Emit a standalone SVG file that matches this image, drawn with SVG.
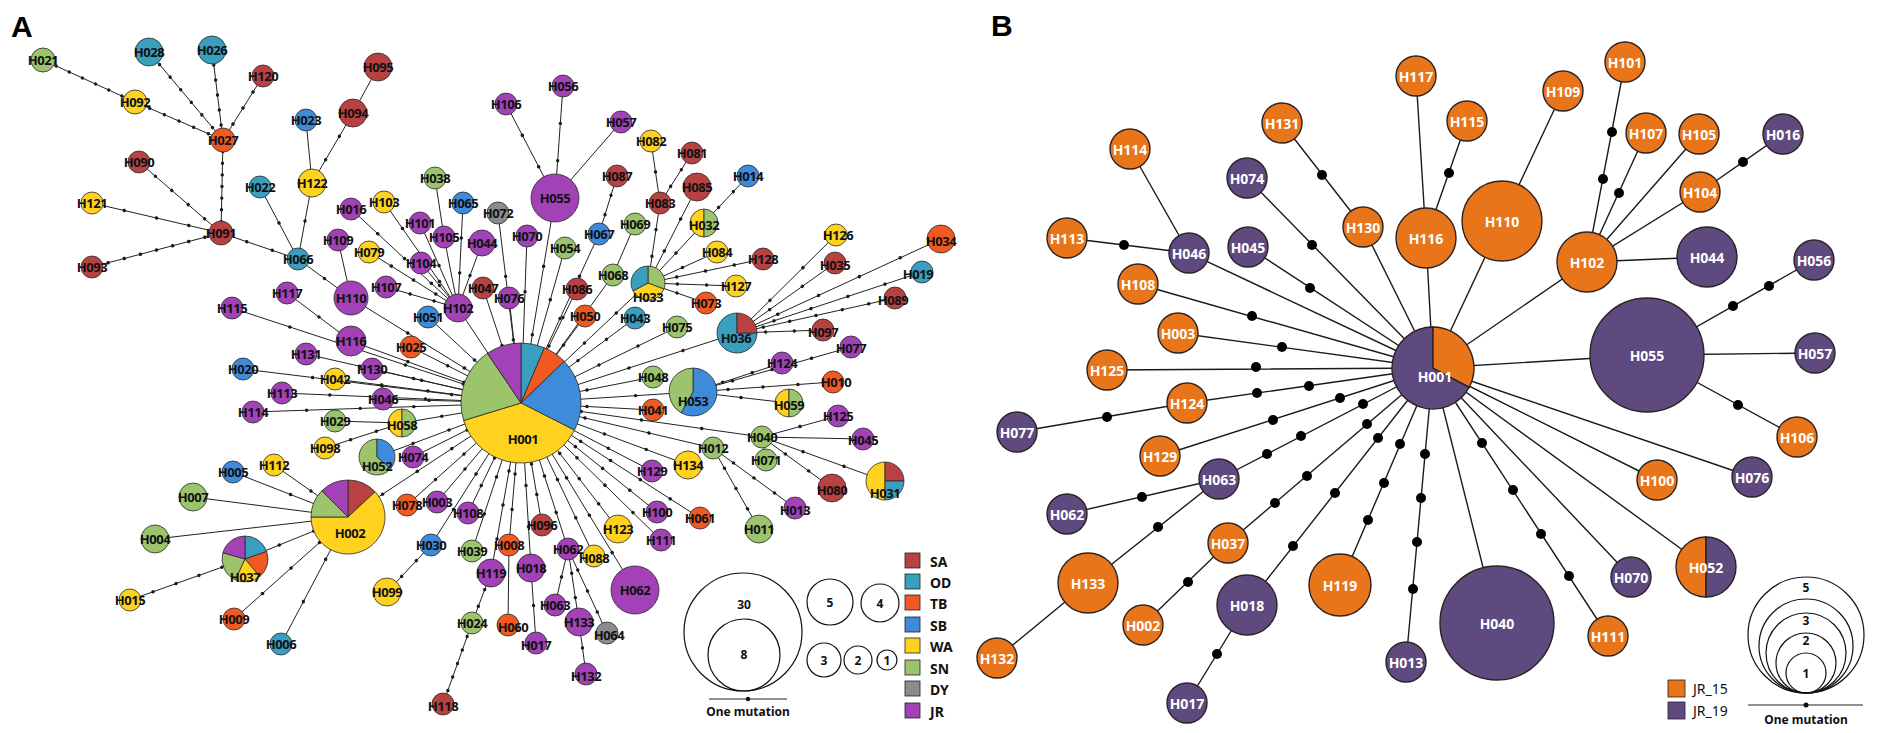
<svg xmlns="http://www.w3.org/2000/svg" width="1904" height="733" viewBox="0 0 1904 733">
<style>
.SA{fill:#B84242}.OD{fill:#3A9EBE}.TB{fill:#F05A22}.SB{fill:#3E8BDA}.WA{fill:#FFD21F}.SN{fill:#9CC46C}.DY{fill:#8C8C8C}.JR{fill:#A242B6}
.J15{fill:#E8751A}.J19{fill:#5F4A80}
.e{stroke:#222;stroke-width:1;fill:none}
.d{stroke:#1a1a1a;stroke-width:3.4;stroke-linecap:round;stroke-dasharray:0.001 0.999;fill:none}
.eb{stroke:#1a1a1a;stroke-width:1.4;fill:none}
.db{fill:#000}
#nodesA circle,#nodesA path{stroke:#2a2a2a;stroke-width:0.8}
#nodesA text{font-family:"Noto Sans",sans-serif;font-weight:700;font-size:13px;fill:#111;text-anchor:middle;dominant-baseline:central;letter-spacing:-0.4px}
#nodesB circle,#nodesB path{stroke:#2b2222;stroke-width:1.4}
#nodesB text{font-family:"Noto Sans",sans-serif;font-weight:700;font-size:14px;fill:#fff;text-anchor:middle;dominant-baseline:central}
.ol{fill:none}
.lg{fill:none;stroke:#111;stroke-width:1.2}
.lt{font-family:"Noto Sans",sans-serif;font-weight:700;font-size:12px;fill:#111;text-anchor:middle;dominant-baseline:central}
.st{font-family:"Noto Sans",sans-serif;font-weight:700;font-size:14px;fill:#111;dominant-baseline:central}
.bt{font-family:"Noto Sans",sans-serif;font-size:14px;fill:#111;dominant-baseline:central}
.sw{stroke:#222;stroke-width:0.8}
.pl{font-family:"Liberation Sans",Arial,sans-serif;font-weight:700;font-size:30px;fill:#000}
</style>
<rect width="1904" height="733" fill="#fff"/>
<text class="pl" x="11" y="37">A</text>
<text class="pl" x="991" y="36">B</text>

<g id="connectorsA">
<path class="e" d="M43 60L135 102"/><path class="d" pathLength="7" d="M43 60L135 102"/>
<path class="e" d="M135 102L223 140"/><path class="d" pathLength="6" d="M135 102L223 140"/>
<path class="e" d="M149 52L223 140"/><path class="d" pathLength="7" d="M149 52L223 140"/>
<path class="e" d="M212 50L223 140"/><path class="d" pathLength="6" d="M212 50L223 140"/>
<path class="e" d="M263 76L223 140"/><path class="d" pathLength="4" d="M263 76L223 140"/>
<path class="e" d="M223 140L221 233"/><path class="d" pathLength="8" d="M223 140L221 233"/>
<path class="e" d="M139 162L221 233"/><path class="d" pathLength="5" d="M139 162L221 233"/>
<path class="e" d="M92 203L221 233"/><path class="d" pathLength="4" d="M92 203L221 233"/>
<path class="e" d="M92 267L221 233"/><path class="d" pathLength="8" d="M92 267L221 233"/>
<path class="e" d="M221 233L298 259"/><path class="d" pathLength="3" d="M221 233L298 259"/>
<path class="e" d="M260 187L298 259"/><path class="d" pathLength="2" d="M260 187L298 259"/>
<path class="e" d="M312 183L298 259"/><path class="d" pathLength="2" d="M312 183L298 259"/>
<path class="e" d="M306 120L312 183"/>
<path class="e" d="M353 113L312 183"/><path class="d" pathLength="3" d="M353 113L312 183"/>
<path class="e" d="M378 67L353 113"/>
<path class="e" d="M298 259L351 298"/><path class="d" pathLength="2" d="M298 259L351 298"/>
<path class="e" d="M338 240L351 298"/>
<path class="e" d="M351 298L521 403"/><path class="d" pathLength="3" d="M351 298L521 403"/>
<path class="e" d="M287 293L351 341"/><path class="d" pathLength="2" d="M287 293L351 341"/>
<path class="e" d="M351 341L521 403"/><path class="d" pathLength="3" d="M351 341L521 403"/>
<path class="e" d="M232 308L521 403"/><path class="d" pathLength="5" d="M232 308L521 403"/>
<path class="e" d="M306 354L521 403"/><path class="d" pathLength="4" d="M306 354L521 403"/>
<path class="e" d="M243 369L521 403"/><path class="d" pathLength="4" d="M243 369L521 403"/>
<path class="e" d="M372 369L521 403"/><path class="d" pathLength="3" d="M372 369L521 403"/>
<path class="e" d="M335 379L521 403"/><path class="d" pathLength="4" d="M335 379L521 403"/>
<path class="e" d="M282 393L521 403"/><path class="d" pathLength="5" d="M282 393L521 403"/>
<path class="e" d="M253 412L521 403"/><path class="d" pathLength="5" d="M253 412L521 403"/>
<path class="e" d="M383 399L521 403"/><path class="d" pathLength="3" d="M383 399L521 403"/>
<path class="e" d="M335 421L402 423"/>
<path class="e" d="M402 423L521 403"/><path class="d" pathLength="3" d="M402 423L521 403"/>
<path class="e" d="M325 448L402 423"/><path class="d" pathLength="3" d="M325 448L402 423"/>
<path class="e" d="M377 457L521 403"/><path class="d" pathLength="4" d="M377 457L521 403"/>
<path class="e" d="M413 457L521 403"/><path class="d" pathLength="2" d="M413 457L521 403"/>
<path class="e" d="M274 465L348 517"/><path class="d" pathLength="2" d="M274 465L348 517"/>
<path class="e" d="M233 472L348 517"/><path class="d" pathLength="2" d="M233 472L348 517"/>
<path class="e" d="M193 497L348 517"/>
<path class="e" d="M155 539L348 517"/>
<path class="e" d="M245 559L348 517"/><path class="d" pathLength="3" d="M245 559L348 517"/>
<path class="e" d="M130 600L245 559"/><path class="d" pathLength="5" d="M130 600L245 559"/>
<path class="e" d="M234 619L348 517"/><path class="d" pathLength="4" d="M234 619L348 517"/>
<path class="e" d="M281 644L348 517"/><path class="d" pathLength="3" d="M281 644L348 517"/>
<path class="e" d="M348 517L521 403"/><path class="d" pathLength="5" d="M348 517L521 403"/>
<path class="e" d="M351 209L458 308"/><path class="d" pathLength="4" d="M351 209L458 308"/>
<path class="e" d="M384 202L458 308"/><path class="d" pathLength="4" d="M384 202L458 308"/>
<path class="e" d="M420 223L458 308"/><path class="d" pathLength="2" d="M420 223L458 308"/>
<path class="e" d="M435 178L444 237"/>
<path class="e" d="M444 237L458 308"/>
<path class="e" d="M421 263L458 308"/><path class="d" pathLength="2" d="M421 263L458 308"/>
<path class="e" d="M386 287L458 308"/><path class="d" pathLength="3" d="M386 287L458 308"/>
<path class="e" d="M369 252L458 308"/><path class="d" pathLength="4" d="M369 252L458 308"/>
<path class="e" d="M463 203L458 308"/><path class="d" pathLength="3" d="M463 203L458 308"/>
<path class="e" d="M482 243L458 308"/><path class="d" pathLength="2" d="M482 243L458 308"/>
<path class="e" d="M458 308L521 403"/><path class="d" pathLength="2" d="M458 308L521 403"/>
<path class="e" d="M428 317L521 403"/><path class="d" pathLength="2" d="M428 317L521 403"/>
<path class="e" d="M411 347L521 403"/><path class="d" pathLength="3" d="M411 347L521 403"/>
<path class="e" d="M498 213L521 403"/><path class="d" pathLength="3" d="M498 213L521 403"/>
<path class="e" d="M527 236L521 403"/><path class="d" pathLength="3" d="M527 236L521 403"/>
<path class="e" d="M483 288L521 403"/><path class="d" pathLength="2" d="M483 288L521 403"/>
<path class="e" d="M509 298L521 403"/><path class="d" pathLength="2" d="M509 298L521 403"/>
<path class="e" d="M506 104L555 198"/><path class="d" pathLength="3" d="M506 104L555 198"/>
<path class="e" d="M563 86L555 198"/><path class="d" pathLength="3" d="M563 86L555 198"/>
<path class="e" d="M621 122L555 198"/>
<path class="e" d="M555 198L521 403"/><path class="d" pathLength="3" d="M555 198L521 403"/>
<path class="e" d="M617 176L599 234"/><path class="d" pathLength="3" d="M617 176L599 234"/>
<path class="e" d="M599 234L521 403"/><path class="d" pathLength="4" d="M599 234L521 403"/>
<path class="e" d="M565 248L521 403"/><path class="d" pathLength="3" d="M565 248L521 403"/>
<path class="e" d="M635 224L613 275"/>
<path class="e" d="M613 275L521 403"/><path class="d" pathLength="3" d="M613 275L521 403"/>
<path class="e" d="M651 141L660 203"/><path class="d" pathLength="2" d="M651 141L660 203"/>
<path class="e" d="M692 153L660 203"/><path class="d" pathLength="3" d="M692 153L660 203"/>
<path class="e" d="M660 203L648 283"/><path class="d" pathLength="3" d="M660 203L648 283"/>
<path class="e" d="M697 187L648 283"/><path class="d" pathLength="3" d="M697 187L648 283"/>
<path class="e" d="M748 176L704 223"/><path class="d" pathLength="3" d="M748 176L704 223"/>
<path class="e" d="M704 223L648 283"/><path class="d" pathLength="2" d="M704 223L648 283"/>
<path class="e" d="M717 252L648 283"/><path class="d" pathLength="2" d="M717 252L648 283"/>
<path class="e" d="M763 259L648 283"/><path class="d" pathLength="4" d="M763 259L648 283"/>
<path class="e" d="M736 286L648 283"/><path class="d" pathLength="3" d="M736 286L648 283"/>
<path class="e" d="M706 303L648 283"/><path class="d" pathLength="2" d="M706 303L648 283"/>
<path class="e" d="M648 283L521 403"/><path class="d" pathLength="4" d="M648 283L521 403"/>
<path class="e" d="M577 289L521 403"/><path class="d" pathLength="4" d="M577 289L521 403"/>
<path class="e" d="M585 316L521 403"/><path class="d" pathLength="3" d="M585 316L521 403"/>
<path class="e" d="M635 318L521 403"/><path class="d" pathLength="4" d="M635 318L521 403"/>
<path class="e" d="M677 327L521 403"/><path class="d" pathLength="4" d="M677 327L521 403"/>
<path class="e" d="M737 333L521 403"/><path class="d" pathLength="4" d="M737 333L521 403"/>
<path class="e" d="M836 235L737 333"/><path class="d" pathLength="3" d="M836 235L737 333"/>
<path class="e" d="M835 263L737 333"/><path class="d" pathLength="3" d="M835 263L737 333"/>
<path class="e" d="M941 239L737 333"/><path class="d" pathLength="5" d="M941 239L737 333"/>
<path class="e" d="M922 272L737 333"/><path class="d" pathLength="5" d="M922 272L737 333"/>
<path class="e" d="M895 298L737 333"/><path class="d" pathLength="6" d="M895 298L737 333"/>
<path class="e" d="M823 330L737 333"/><path class="d" pathLength="3" d="M823 330L737 333"/>
<path class="e" d="M653 377L521 403"/><path class="d" pathLength="2" d="M653 377L521 403"/>
<path class="e" d="M693 392L521 403"/><path class="d" pathLength="3" d="M693 392L521 403"/>
<path class="e" d="M782 363L693 392"/><path class="d" pathLength="3" d="M782 363L693 392"/>
<path class="e" d="M833 382L693 392"/><path class="d" pathLength="4" d="M833 382L693 392"/>
<path class="e" d="M851 347L693 392"/><path class="d" pathLength="4" d="M851 347L693 392"/>
<path class="e" d="M789 403L693 392"/><path class="d" pathLength="2" d="M789 403L693 392"/>
<path class="e" d="M653 410L521 403"/><path class="d" pathLength="2" d="M653 410L521 403"/>
<path class="e" d="M762 437L521 403"/><path class="d" pathLength="4" d="M762 437L521 403"/>
<path class="e" d="M838 416L762 437"/><path class="d" pathLength="2" d="M838 416L762 437"/>
<path class="e" d="M863 439L762 437"/>
<path class="e" d="M885 481L762 437"/><path class="d" pathLength="3" d="M885 481L762 437"/>
<path class="e" d="M832 488L762 437"/><path class="d" pathLength="3" d="M832 488L762 437"/>
<path class="e" d="M766 460L762 437"/>
<path class="e" d="M713 448L521 403"/><path class="d" pathLength="3" d="M713 448L521 403"/>
<path class="e" d="M795 508L713 448"/><path class="d" pathLength="4" d="M795 508L713 448"/>
<path class="e" d="M759 529L713 448"/><path class="d" pathLength="4" d="M759 529L713 448"/>
<path class="e" d="M688 465L521 403"/><path class="d" pathLength="4" d="M688 465L521 403"/>
<path class="e" d="M652 471L521 403"/><path class="d" pathLength="3" d="M652 471L521 403"/>
<path class="e" d="M661 540L521 403"/><path class="d" pathLength="5" d="M661 540L521 403"/>
<path class="e" d="M657 512L521 403"/><path class="d" pathLength="5" d="M657 512L521 403"/>
<path class="e" d="M700 518L521 403"/><path class="d" pathLength="6" d="M700 518L521 403"/>
<path class="e" d="M618 529L521 403"/><path class="d" pathLength="5" d="M618 529L521 403"/>
<path class="e" d="M635 590L521 403"/><path class="d" pathLength="5" d="M635 590L521 403"/>
<path class="e" d="M594 556L521 403"/><path class="d" pathLength="4" d="M594 556L521 403"/>
<path class="e" d="M568 549L521 403"/><path class="d" pathLength="4" d="M568 549L521 403"/>
<path class="e" d="M555 605L568 549"/><path class="d" pathLength="2" d="M555 605L568 549"/>
<path class="e" d="M579 622L568 549"/><path class="d" pathLength="3" d="M579 622L568 549"/>
<path class="e" d="M607 633L568 549"/><path class="d" pathLength="4" d="M607 633L568 549"/>
<path class="e" d="M586 674L579 622"/><path class="d" pathLength="2" d="M586 674L579 622"/>
<path class="e" d="M542 525L521 403"/><path class="d" pathLength="4" d="M542 525L521 403"/>
<path class="e" d="M531 568L521 403"/><path class="d" pathLength="4" d="M531 568L521 403"/>
<path class="e" d="M536 643L531 568"/><path class="d" pathLength="2" d="M536 643L531 568"/>
<path class="e" d="M509 545L521 403"/><path class="d" pathLength="4" d="M509 545L521 403"/>
<path class="e" d="M508 625L509 545"/>
<path class="e" d="M491 573L521 403"/><path class="d" pathLength="5" d="M491 573L521 403"/>
<path class="e" d="M472 623L491 573"/><path class="d" pathLength="3" d="M472 623L491 573"/>
<path class="e" d="M443 704L472 623"/><path class="d" pathLength="6" d="M443 704L472 623"/>
<path class="e" d="M472 551L521 403"/><path class="d" pathLength="4" d="M472 551L521 403"/>
<path class="e" d="M468 513L521 403"/><path class="d" pathLength="4" d="M468 513L521 403"/>
<path class="e" d="M437 502L521 403"/><path class="d" pathLength="3" d="M437 502L521 403"/>
<path class="e" d="M407 505L521 403"/><path class="d" pathLength="4" d="M407 505L521 403"/>
<path class="e" d="M431 545L521 403"/><path class="d" pathLength="4" d="M431 545L521 403"/>
<path class="e" d="M387 592L431 545"/><path class="d" pathLength="3" d="M387 592L431 545"/>
</g>

<g id="nodesA">
<g id="a-H021"><circle class="SN" cx="43" cy="60" r="12"/><text x="43" y="60">H021</text></g>
<g id="a-H028"><circle class="OD" cx="149" cy="52" r="14"/><text x="149" y="52">H028</text></g>
<g id="a-H026"><circle class="OD" cx="212" cy="50" r="14"/><text x="212" y="50">H026</text></g>
<g id="a-H120"><circle class="SA" cx="263" cy="76" r="11"/><text x="263" y="76">H120</text></g>
<g id="a-H092"><circle class="WA" cx="135" cy="102" r="12"/><text x="135" y="102">H092</text></g>
<g id="a-H027"><circle class="TB" cx="223" cy="140" r="12"/><text x="223" y="140">H027</text></g>
<g id="a-H090"><circle class="SA" cx="139" cy="162" r="11"/><text x="139" y="162">H090</text></g>
<g id="a-H022"><circle class="OD" cx="260" cy="187" r="11"/><text x="260" y="187">H022</text></g>
<g id="a-H121"><circle class="WA" cx="92" cy="203" r="11"/><text x="92" y="203">H121</text></g>
<g id="a-H091"><circle class="SA" cx="221" cy="233" r="12"/><text x="221" y="233">H091</text></g>
<g id="a-H093"><circle class="SA" cx="92" cy="267" r="11"/><text x="92" y="267">H093</text></g>
<g id="a-H066"><circle class="OD" cx="298" cy="259" r="11"/><text x="298" y="259">H066</text></g>
<g id="a-H095"><circle class="SA" cx="378" cy="67" r="14"/><text x="378" y="67">H095</text></g>
<g id="a-H094"><circle class="SA" cx="353" cy="113" r="14"/><text x="353" y="113">H094</text></g>
<g id="a-H023"><circle class="SB" cx="306" cy="120" r="11"/><text x="306" y="120">H023</text></g>
<g id="a-H122"><circle class="WA" cx="312" cy="183" r="14"/><text x="312" y="183">H122</text></g>
<g id="a-H106"><circle class="JR" cx="506" cy="104" r="11"/><text x="506" y="104">H106</text></g>
<g id="a-H038"><circle class="SN" cx="435" cy="178" r="11"/><text x="435" y="178">H038</text></g>
<g id="a-H103"><circle class="WA" cx="384" cy="202" r="11"/><text x="384" y="202">H103</text></g>
<g id="a-H016"><circle class="JR" cx="351" cy="209" r="11"/><text x="351" y="209">H016</text></g>
<g id="a-H065"><circle class="SB" cx="463" cy="203" r="11"/><text x="463" y="203">H065</text></g>
<g id="a-H072"><circle class="DY" cx="498" cy="213" r="11"/><text x="498" y="213">H072</text></g>
<g id="a-H101"><circle class="JR" cx="420" cy="223" r="11"/><text x="420" y="223">H101</text></g>
<g id="a-H105"><circle class="JR" cx="444" cy="237" r="11"/><text x="444" y="237">H105</text></g>
<g id="a-H044"><circle class="JR" cx="482" cy="243" r="13"/><text x="482" y="243">H044</text></g>
<g id="a-H070"><circle class="JR" cx="527" cy="236" r="11"/><text x="527" y="236">H070</text></g>
<g id="a-H109"><circle class="JR" cx="338" cy="240" r="11"/><text x="338" y="240">H109</text></g>
<g id="a-H056"><circle class="JR" cx="563" cy="86" r="11"/><text x="563" y="86">H056</text></g>
<g id="a-H057"><circle class="JR" cx="621" cy="122" r="11"/><text x="621" y="122">H057</text></g>
<g id="a-H055"><circle class="JR" cx="555" cy="198" r="24"/><text x="555" y="198">H055</text></g>
<g id="a-H082"><circle class="WA" cx="651" cy="141" r="11"/><text x="651" y="141">H082</text></g>
<g id="a-H081"><circle class="SA" cx="692" cy="153" r="11"/><text x="692" y="153">H081</text></g>
<g id="a-H087"><circle class="SA" cx="617" cy="176" r="11"/><text x="617" y="176">H087</text></g>
<g id="a-H085"><circle class="SA" cx="697" cy="187" r="14"/><text x="697" y="187">H085</text></g>
<g id="a-H014"><circle class="SB" cx="748" cy="176" r="11"/><text x="748" y="176">H014</text></g>
<g id="a-H083"><circle class="SA" cx="660" cy="203" r="11"/><text x="660" y="203">H083</text></g>
<g id="a-H032"><path class="WA" d="M704 209A14 14 0 0 0 704 237Z"/><path class="SN" d="M704 209A14 14 0 0 1 704 237Z"/><text x="704" y="225">H032</text></g>
<g id="a-H069"><circle class="SN" cx="635" cy="224" r="11"/><text x="635" y="224">H069</text></g>
<g id="a-H067"><circle class="SB" cx="599" cy="234" r="11"/><text x="599" y="234">H067</text></g>
<g id="a-H054"><circle class="SN" cx="565" cy="248" r="11"/><text x="565" y="248">H054</text></g>
<g id="a-H084"><circle class="WA" cx="717" cy="252" r="11"/><text x="717" y="252">H084</text></g>
<g id="a-H128"><circle class="SA" cx="763" cy="259" r="11"/><text x="763" y="259">H128</text></g>
<g id="a-H068"><circle class="SN" cx="613" cy="275" r="11"/><text x="613" y="275">H068</text></g>
<g id="a-H033"><path class="SN" d="M648 283L648 266A17 17 0 0 1 663.9 289.1Z"/><path class="WA" d="M648 283L663.9 289.1A17 17 0 0 1 633 291Z"/><path class="OD" d="M648 283L633 291A17 17 0 0 1 648 266Z"/><text x="648" y="297">H033</text></g>
<g id="a-H127"><circle class="WA" cx="736" cy="286" r="11"/><text x="736" y="286">H127</text></g>
<g id="a-H086"><circle class="SA" cx="577" cy="289" r="11"/><text x="577" y="289">H086</text></g>
<g id="a-H073"><circle class="TB" cx="706" cy="303" r="11"/><text x="706" y="303">H073</text></g>
<g id="a-H050"><circle class="TB" cx="585" cy="316" r="11"/><text x="585" y="316">H050</text></g>
<g id="a-H043"><circle class="OD" cx="635" cy="318" r="11"/><text x="635" y="318">H043</text></g>
<g id="a-H075"><circle class="SN" cx="677" cy="327" r="11"/><text x="677" y="327">H075</text></g>
<g id="a-H036"><path class="OD" d="M737 333L757 333A20 20 0 1 1 737 313Z"/><path class="SA" d="M737 333L737 313A20 20 0 0 1 757 333Z"/><text x="736" y="338">H036</text></g>
<g id="a-H124"><circle class="JR" cx="782" cy="363" r="11"/><text x="782" y="363">H124</text></g>
<g id="a-H048"><circle class="SN" cx="653" cy="377" r="11"/><text x="653" y="377">H048</text></g>
<g id="a-H053"><path class="SB" d="M693 392L693 368A24 24 0 1 1 681 412.8Z"/><path class="SN" d="M693 392L681 412.8A24 24 0 0 1 693 368Z"/><text x="693" y="401">H053</text></g>
<g id="a-H059"><path class="WA" d="M789 389A14 14 0 0 0 789 417Z"/><path class="SN" d="M789 389A14 14 0 0 1 789 417Z"/><text x="789" y="405">H059</text></g>
<g id="a-H041"><circle class="TB" cx="653" cy="410" r="11"/><text x="653" y="410">H041</text></g>
<g id="a-H040"><circle class="SN" cx="762" cy="437" r="11"/><text x="762" y="437">H040</text></g>
<g id="a-H012"><circle class="SN" cx="713" cy="448" r="11"/><text x="713" y="448">H012</text></g>
<g id="a-H071"><circle class="SN" cx="766" cy="460" r="11"/><text x="766" y="460">H071</text></g>
<g id="a-H134"><circle class="WA" cx="688" cy="465" r="14"/><text x="688" y="465">H134</text></g>
<g id="a-H129"><circle class="JR" cx="652" cy="471" r="11"/><text x="652" y="471">H129</text></g>
<g id="a-H079"><circle class="WA" cx="369" cy="252" r="11"/><text x="369" y="252">H079</text></g>
<g id="a-H104"><circle class="JR" cx="421" cy="263" r="11"/><text x="421" y="263">H104</text></g>
<g id="a-H117"><circle class="JR" cx="287" cy="293" r="11"/><text x="287" y="293">H117</text></g>
<g id="a-H110"><circle class="JR" cx="351" cy="298" r="17"/><text x="351" y="298">H110</text></g>
<g id="a-H107"><circle class="JR" cx="386" cy="287" r="11"/><text x="386" y="287">H107</text></g>
<g id="a-H047"><circle class="SA" cx="483" cy="288" r="11"/><text x="483" y="288">H047</text></g>
<g id="a-H076"><circle class="JR" cx="509" cy="298" r="11"/><text x="509" y="298">H076</text></g>
<g id="a-H102"><circle class="JR" cx="458" cy="308" r="14"/><text x="458" y="308">H102</text></g>
<g id="a-H051"><circle class="SB" cx="428" cy="317" r="11"/><text x="428" y="317">H051</text></g>
<g id="a-H116"><circle class="JR" cx="351" cy="341" r="15"/><text x="351" y="341">H116</text></g>
<g id="a-H025"><circle class="TB" cx="411" cy="347" r="11"/><text x="411" y="347">H025</text></g>
<g id="a-H131"><circle class="JR" cx="306" cy="354" r="11"/><text x="306" y="354">H131</text></g>
<g id="a-H130"><circle class="JR" cx="372" cy="369" r="11"/><text x="372" y="369">H130</text></g>
<g id="a-H042"><circle class="WA" cx="335" cy="379" r="11"/><text x="335" y="379">H042</text></g>
<g id="a-H113"><circle class="JR" cx="282" cy="393" r="11"/><text x="282" y="393">H113</text></g>
<g id="a-H046"><circle class="JR" cx="383" cy="399" r="11"/><text x="383" y="399">H046</text></g>
<g id="a-H058"><path class="WA" d="M402 409A14 14 0 0 0 402 437Z"/><path class="SN" d="M402 409A14 14 0 0 1 402 437Z"/><text x="402" y="425">H058</text></g>
<g id="a-H029"><circle class="SN" cx="335" cy="421" r="11"/><text x="335" y="421">H029</text></g>
<g id="a-H098"><circle class="WA" cx="325" cy="448" r="11"/><text x="325" y="448">H098</text></g>
<g id="a-H052"><path class="SN" d="M377 457L390.8 468.6A18 18 0 1 1 377 439Z"/><path class="SB" d="M377 457L377 439A18 18 0 0 1 390.8 468.6Z"/><text x="377" y="466">H052</text></g>
<g id="a-H074"><circle class="JR" cx="413" cy="457" r="11"/><text x="413" y="457">H074</text></g>
<g id="a-H115"><circle class="JR" cx="232" cy="308" r="11"/><text x="232" y="308">H115</text></g>
<g id="a-H020"><circle class="SB" cx="243" cy="369" r="11"/><text x="243" y="369">H020</text></g>
<g id="a-H114"><circle class="JR" cx="253" cy="412" r="11"/><text x="253" y="412">H114</text></g>
<g id="a-H112"><circle class="WA" cx="274" cy="465" r="11"/><text x="274" y="465">H112</text></g>
<g id="a-H005"><circle class="SB" cx="233" cy="472" r="11"/><text x="233" y="472">H005</text></g>
<g id="a-H007"><circle class="SN" cx="193" cy="497" r="14"/><text x="193" y="497">H007</text></g>
<g id="a-H002"><path class="SA" d="M348 517L348 480A37 37 0 0 1 375.1 491.8Z"/><path class="WA" d="M348 517L375.1 491.8A37 37 0 1 1 311 517Z"/><path class="SN" d="M348 517L311 517A37 37 0 0 1 321.8 490.8Z"/><path class="JR" d="M348 517L321.8 490.8A37 37 0 0 1 348 480Z"/><text x="350" y="533">H002</text></g>
<g id="a-H004"><circle class="SN" cx="155" cy="539" r="14"/><text x="155" y="539">H004</text></g>
<g id="a-H037"><path class="OD" d="M245 559L245 536A23 23 0 0 1 266.7 551.5Z"/><path class="TB" d="M245 559L266.7 551.5A23 23 0 0 1 259.8 576.6Z"/><path class="WA" d="M245 559L259.8 576.6A23 23 0 0 1 235.3 579.8Z"/><path class="SN" d="M245 559L235.3 579.8A23 23 0 0 1 222.9 552.7Z"/><path class="JR" d="M245 559L222.9 552.7A23 23 0 0 1 245 536Z"/><text x="245" y="577">H037</text></g>
<g id="a-H015"><circle class="WA" cx="130" cy="600" r="11"/><text x="130" y="600">H015</text></g>
<g id="a-H009"><circle class="TB" cx="234" cy="619" r="11"/><text x="234" y="619">H009</text></g>
<g id="a-H006"><circle class="OD" cx="281" cy="644" r="11"/><text x="281" y="644">H006</text></g>
<g id="a-H099"><circle class="WA" cx="387" cy="592" r="14"/><text x="387" y="592">H099</text></g>
<g id="a-H078"><circle class="TB" cx="407" cy="505" r="11"/><text x="407" y="505">H078</text></g>
<g id="a-H003"><circle class="JR" cx="437" cy="502" r="11"/><text x="437" y="502">H003</text></g>
<g id="a-H108"><circle class="JR" cx="468" cy="513" r="11"/><text x="468" y="513">H108</text></g>
<g id="a-H096"><circle class="SA" cx="542" cy="525" r="11"/><text x="542" y="525">H096</text></g>
<g id="a-H100"><circle class="JR" cx="657" cy="512" r="11"/><text x="657" y="512">H100</text></g>
<g id="a-H061"><circle class="TB" cx="700" cy="518" r="11"/><text x="700" y="518">H061</text></g>
<g id="a-H011"><circle class="SN" cx="759" cy="529" r="14"/><text x="759" y="529">H011</text></g>
<g id="a-H123"><circle class="WA" cx="618" cy="529" r="14"/><text x="618" y="529">H123</text></g>
<g id="a-H111"><circle class="JR" cx="661" cy="540" r="11"/><text x="661" y="540">H111</text></g>
<g id="a-H030"><circle class="SB" cx="431" cy="545" r="11"/><text x="431" y="545">H030</text></g>
<g id="a-H039"><circle class="SN" cx="472" cy="551" r="11"/><text x="472" y="551">H039</text></g>
<g id="a-H008"><circle class="TB" cx="509" cy="545" r="11"/><text x="509" y="545">H008</text></g>
<g id="a-H062a"><circle class="JR" cx="568" cy="549" r="11"/><text x="568" y="549">H062</text></g>
<g id="a-H088"><circle class="WA" cx="594" cy="556" r="11"/><text x="594" y="558">H088</text></g>
<g id="a-H119"><circle class="JR" cx="491" cy="573" r="14"/><text x="491" y="573">H119</text></g>
<g id="a-H018"><circle class="JR" cx="531" cy="568" r="14"/><text x="531" y="568">H018</text></g>
<g id="a-H062b"><circle class="JR" cx="635" cy="590" r="24"/><text x="635" y="590">H062</text></g>
<g id="a-H063"><circle class="JR" cx="555" cy="605" r="11"/><text x="555" y="605">H063</text></g>
<g id="a-H024"><circle class="SN" cx="472" cy="623" r="11"/><text x="472" y="623">H024</text></g>
<g id="a-H060"><circle class="TB" cx="508" cy="625" r="11"/><text x="513" y="627">H060</text></g>
<g id="a-H133"><circle class="JR" cx="579" cy="622" r="14"/><text x="579" y="622">H133</text></g>
<g id="a-H064"><circle class="DY" cx="607" cy="633" r="11"/><text x="609" y="635">H064</text></g>
<g id="a-H017"><circle class="JR" cx="536" cy="643" r="11"/><text x="536" y="645">H017</text></g>
<g id="a-H132"><circle class="JR" cx="586" cy="674" r="11"/><text x="586" y="676">H132</text></g>
<g id="a-H118"><circle class="SA" cx="443" cy="704" r="11"/><text x="443" y="706">H118</text></g>
<g id="a-H010"><circle class="TB" cx="833" cy="382" r="11"/><text x="836" y="382">H010</text></g>
<g id="a-H125"><circle class="JR" cx="838" cy="416" r="11"/><text x="838" y="416">H125</text></g>
<g id="a-H045"><circle class="JR" cx="863" cy="439" r="11"/><text x="863" y="440">H045</text></g>
<g id="a-H031"><path class="WA" d="M885 462A19 19 0 0 0 885 500Z"/><path class="SA" d="M885 481L885 462A19 19 0 0 1 904 481Z"/><path class="OD" d="M885 481L904 481A19 19 0 0 1 885 500Z"/><text x="885" y="493">H031</text></g>
<g id="a-H080"><circle class="SA" cx="832" cy="488" r="14"/><text x="832" y="490">H080</text></g>
<g id="a-H013"><circle class="JR" cx="795" cy="508" r="11"/><text x="795" y="510">H013</text></g>
<g id="a-H126"><circle class="WA" cx="836" cy="235" r="11"/><text x="838" y="235">H126</text></g>
<g id="a-H035"><circle class="SA" cx="835" cy="263" r="11"/><text x="835" y="265">H035</text></g>
<g id="a-H034"><circle class="TB" cx="941" cy="239" r="14"/><text x="941" y="241">H034</text></g>
<g id="a-H019"><circle class="OD" cx="922" cy="272" r="11"/><text x="918" y="274">H019</text></g>
<g id="a-H089"><circle class="SA" cx="895" cy="298" r="11"/><text x="893" y="300">H089</text></g>
<g id="a-H097"><circle class="SA" cx="823" cy="330" r="11"/><text x="823" y="332">H097</text></g>
<g id="a-H077"><circle class="JR" cx="851" cy="347" r="11"/><text x="851" y="348">H077</text></g>
<g id="a-H001"><path class="OD" d="M521 403L521 343A60 60 0 0 1 544.4 347.8Z"/><path class="TB" d="M521 403L544.4 347.8A60 60 0 0 1 564.2 361.3Z"/><path class="SB" d="M521 403L564.2 361.3A60 60 0 0 1 574.5 430.2Z"/><path class="WA" d="M521 403L574.5 430.2A60 60 0 0 1 463.6 420.5Z"/><path class="SN" d="M521 403L463.6 420.5A60 60 0 0 1 487.4 353.3Z"/><path class="JR" d="M521 403L487.4 353.3A60 60 0 0 1 521 343Z"/><text x="523" y="439">H001</text></g>
</g>

<g id="legendA">
<circle class="lg" cx="743" cy="632" r="59"/>
<circle class="lg" cx="744" cy="655" r="36"/>
<text class="lt" x="744" y="604">30</text>
<text class="lt" x="744" y="654">8</text>
<circle class="lg" cx="830" cy="602" r="23"/><text class="lt" x="830" y="602">5</text>
<circle class="lg" cx="880" cy="603" r="19"/><text class="lt" x="880" y="603">4</text>
<circle class="lg" cx="824" cy="660" r="17"/><text class="lt" x="824" y="660">3</text>
<circle class="lg" cx="858" cy="660" r="14"/><text class="lt" x="858" y="660">2</text>
<circle class="lg" cx="887" cy="660" r="10"/><text class="lt" x="887" y="660">1</text>
<path class="e" d="M709 699L787 699"/><circle cx="748" cy="699" r="2.2" fill="#111"/>
<text class="lt" x="748" y="711">One mutation</text>
<rect class="SA sw" x="905" y="553" width="15" height="15"/><text class="st" x="930" y="561">SA</text>
<rect class="OD sw" x="905" y="574" width="15" height="15"/><text class="st" x="930" y="582">OD</text>
<rect class="TB sw" x="905" y="595" width="15" height="15"/><text class="st" x="930" y="603">TB</text>
<rect class="SB sw" x="905" y="617" width="15" height="15"/><text class="st" x="930" y="625">SB</text>
<rect class="WA sw" x="905" y="638" width="15" height="15"/><text class="st" x="930" y="646">WA</text>
<rect class="SN sw" x="905" y="660" width="15" height="15"/><text class="st" x="930" y="668">SN</text>
<rect class="DY sw" x="905" y="681" width="15" height="15"/><text class="st" x="930" y="689">DY</text>
<rect class="JR sw" x="905" y="703" width="15" height="15"/><text class="st" x="930" y="711">JR</text>
</g>

<g id="connectorsB">
<path class="eb" d="M1130 149L1189 253M1067 238L1189 253M1189 253L1433 368M1247 178L1433 368M1248 247L1433 368M1282 123L1363 227M1138 284L1433 368M1178 333L1433 368M1107 370L1433 368M1363 227L1433 368M1416 76L1426 238M1467 121L1426 238M1426 238L1433 368M1563 91L1502 221M1502 221L1433 368M1587 262L1433 368M1625 62L1587 262M1646 133L1587 262M1699 134L1587 262M1700 192L1587 262M1783 134L1700 192M1707 257L1587 262M1647 355L1433 368M1814 260L1647 355M1815 353L1647 355M1797 437L1647 355M1657 480L1433 368M1752 477L1433 368M1706 567L1433 368M1631 577L1433 368M1608 636L1433 368M1497 623L1433 368M1406 662L1433 368M1340 585L1433 368M1247 605L1433 368M1187 703L1247 605M1228 543L1433 368M1143 625L1228 543M1219 479L1433 368M1067 514L1219 479M1088 583L1219 479M997 658L1088 583M1160 456L1433 368M1187 403L1433 368M1017 432L1187 403"/>
<g class="db">
<circle cx="1124" cy="245" r="5"/><circle cx="1322" cy="175" r="5"/><circle cx="1312" cy="245" r="5"/><circle cx="1310" cy="288" r="5"/>
<circle cx="1252" cy="316" r="5"/><circle cx="1282" cy="347" r="5"/><circle cx="1256" cy="367" r="5"/><circle cx="1449" cy="173" r="5"/>
<circle cx="1612" cy="132" r="5"/><circle cx="1603" cy="179" r="5"/><circle cx="1619" cy="193" r="5"/><circle cx="1743" cy="162" r="5"/>
<circle cx="1769" cy="286" r="5"/><circle cx="1733" cy="306" r="5"/><circle cx="1738" cy="405" r="5"/>
<circle cx="1482" cy="443" r="5"/><circle cx="1513" cy="490" r="5"/><circle cx="1541" cy="534" r="5"/><circle cx="1569" cy="576" r="5"/>
<circle cx="1425" cy="454" r="5"/><circle cx="1421" cy="498" r="5"/><circle cx="1417" cy="542" r="5"/><circle cx="1413" cy="589" r="5"/>
<circle cx="1368" cy="520" r="5"/><circle cx="1384" cy="483" r="5"/><circle cx="1400" cy="444" r="5"/>
<circle cx="1293" cy="546" r="5"/><circle cx="1335" cy="493" r="5"/><circle cx="1378" cy="438" r="5"/><circle cx="1217" cy="654" r="5"/>
<circle cx="1275" cy="503" r="5"/><circle cx="1307" cy="476" r="5"/><circle cx="1367" cy="424" r="5"/><circle cx="1188" cy="582" r="5"/>
<circle cx="1267" cy="454" r="5"/><circle cx="1301" cy="436" r="5"/><circle cx="1363" cy="404" r="5"/><circle cx="1142" cy="497" r="5"/><circle cx="1158" cy="527" r="5"/>
<circle cx="1273" cy="420" r="5"/><circle cx="1340" cy="398" r="5"/><circle cx="1257" cy="393" r="5"/><circle cx="1309" cy="386" r="5"/><circle cx="1107" cy="417" r="5"/>
</g>
</g>

<g id="nodesB">
<g id="b-H131"><circle class="J15" cx="1282" cy="123" r="20"/><text x="1282" y="123">H131</text></g>
<g id="b-H114"><circle class="J15" cx="1130" cy="149" r="20"/><text x="1130" y="149">H114</text></g>
<g id="b-H074"><circle class="J19" cx="1247" cy="178" r="20"/><text x="1247" y="178">H074</text></g>
<g id="b-H113"><circle class="J15" cx="1067" cy="238" r="20"/><text x="1067" y="238">H113</text></g>
<g id="b-H046"><circle class="J19" cx="1189" cy="253" r="20"/><text x="1189" y="253">H046</text></g>
<g id="b-H045"><circle class="J19" cx="1248" cy="247" r="20"/><text x="1248" y="247">H045</text></g>
<g id="b-H108"><circle class="J15" cx="1138" cy="284" r="20"/><text x="1138" y="284">H108</text></g>
<g id="b-H003"><circle class="J15" cx="1178" cy="333" r="20"/><text x="1178" y="333">H003</text></g>
<g id="b-H125"><circle class="J15" cx="1107" cy="370" r="20"/><text x="1107" y="370">H125</text></g>
<g id="b-H117"><circle class="J15" cx="1416" cy="76" r="20"/><text x="1416" y="76">H117</text></g>
<g id="b-H115"><circle class="J15" cx="1467" cy="121" r="20"/><text x="1467" y="121">H115</text></g>
<g id="b-H109"><circle class="J15" cx="1563" cy="91" r="20"/><text x="1563" y="91">H109</text></g>
<g id="b-H101"><circle class="J15" cx="1625" cy="62" r="20"/><text x="1625" y="62">H101</text></g>
<g id="b-H107"><circle class="J15" cx="1646" cy="133" r="20"/><text x="1646" y="133">H107</text></g>
<g id="b-H105"><circle class="J15" cx="1699" cy="134" r="20"/><text x="1699" y="134">H105</text></g>
<g id="b-H016"><circle class="J19" cx="1783" cy="134" r="20"/><text x="1783" y="134">H016</text></g>
<g id="b-H104"><circle class="J15" cx="1700" cy="192" r="20"/><text x="1700" y="192">H104</text></g>
<g id="b-H130"><circle class="J15" cx="1363" cy="227" r="20"/><text x="1363" y="227">H130</text></g>
<g id="b-H116"><circle class="J15" cx="1426" cy="238" r="30"/><text x="1426" y="238">H116</text></g>
<g id="b-H110"><circle class="J15" cx="1502" cy="221" r="40"/><text x="1502" y="221">H110</text></g>
<g id="b-H102"><circle class="J15" cx="1587" cy="262" r="30"/><text x="1587" y="262">H102</text></g>
<g id="b-H044"><circle class="J19" cx="1707" cy="257" r="30"/><text x="1707" y="257">H044</text></g>
<g id="b-H056"><circle class="J19" cx="1814" cy="260" r="20"/><text x="1814" y="260">H056</text></g>
<g id="b-H055"><circle class="J19" cx="1647" cy="355" r="57"/><text x="1647" y="355">H055</text></g>
<g id="b-H057"><circle class="J19" cx="1815" cy="353" r="20"/><text x="1815" y="353">H057</text></g>
<g id="b-H124"><circle class="J15" cx="1187" cy="403" r="20"/><text x="1187" y="403">H124</text></g>
<g id="b-H077"><circle class="J19" cx="1017" cy="432" r="20"/><text x="1017" y="432">H077</text></g>
<g id="b-H129"><circle class="J15" cx="1160" cy="456" r="20"/><text x="1160" y="456">H129</text></g>
<g id="b-H063"><circle class="J19" cx="1219" cy="479" r="20"/><text x="1219" y="479">H063</text></g>
<g id="b-H062"><circle class="J19" cx="1067" cy="514" r="20"/><text x="1067" y="514">H062</text></g>
<g id="b-H133"><circle class="J15" cx="1088" cy="583" r="30"/><text x="1088" y="583">H133</text></g>
<g id="b-H132"><circle class="J15" cx="997" cy="658" r="20"/><text x="997" y="658">H132</text></g>
<g id="b-H037"><circle class="J15" cx="1228" cy="543" r="20"/><text x="1228" y="543">H037</text></g>
<g id="b-H002"><circle class="J15" cx="1143" cy="625" r="20"/><text x="1143" y="625">H002</text></g>
<g id="b-H018"><circle class="J19" cx="1247" cy="605" r="30"/><text x="1247" y="605">H018</text></g>
<g id="b-H017"><circle class="J19" cx="1187" cy="703" r="20"/><text x="1187" y="703">H017</text></g>
<g id="b-H119"><circle class="J15" cx="1340" cy="585" r="31"/><text x="1340" y="585">H119</text></g>
<g id="b-H013"><circle class="J19" cx="1406" cy="662" r="20"/><text x="1406" y="662">H013</text></g>
<g id="b-H040"><circle class="J19" cx="1497" cy="623" r="57"/><text x="1497" y="623">H040</text></g>
<g id="b-H111"><circle class="J15" cx="1608" cy="636" r="20"/><text x="1608" y="636">H111</text></g>
<g id="b-H070"><circle class="J19" cx="1631" cy="577" r="20"/><text x="1631" y="577">H070</text></g>
<g id="b-H052"><path class="J15" d="M1706 537A30 30 0 0 0 1706 597Z"/><path class="J19" d="M1706 537A30 30 0 0 1 1706 597Z"/><text x="1706" y="567">H052</text></g>
<g id="b-H100"><circle class="J15" cx="1657" cy="480" r="20"/><text x="1657" y="480">H100</text></g>
<g id="b-H076"><circle class="J19" cx="1752" cy="477" r="20"/><text x="1752" y="477">H076</text></g>
<g id="b-H106"><circle class="J15" cx="1797" cy="437" r="20"/><text x="1797" y="437">H106</text></g>
<g id="b-H001"><path class="J19" d="M1433 368L1469.2 387.2A41 41 0 1 1 1433 327Z"/><path class="J15" d="M1433 368L1433 327A41 41 0 0 1 1469.2 387.2Z"/><text x="1435" y="376">H001</text></g>
</g>

<g id="legendB">
<rect class="J15 sw" x="1668" y="680" width="17" height="17"/><text class="bt" x="1693" y="688">JR_15</text>
<rect class="J19 sw" x="1668" y="702" width="17" height="17"/><text class="bt" x="1693" y="710">JR_19</text>
<circle class="lg" cx="1806" cy="635" r="58"/>
<circle class="lg" cx="1806" cy="646" r="47"/>
<circle class="lg" cx="1806" cy="653" r="40"/>
<circle class="lg" cx="1806" cy="663" r="30"/>
<circle class="lg" cx="1806" cy="673" r="20"/>
<text class="lt" x="1806" y="587">5</text>
<text class="lt" x="1806" y="620">3</text>
<text class="lt" x="1806" y="640">2</text>
<text class="lt" x="1806" y="673">1</text>
<path class="e" d="M1748 705L1863 705"/><circle cx="1806" cy="705" r="2.5" fill="#111"/>
<text class="lt" x="1806" y="719">One mutation</text>
</g>
</svg>
